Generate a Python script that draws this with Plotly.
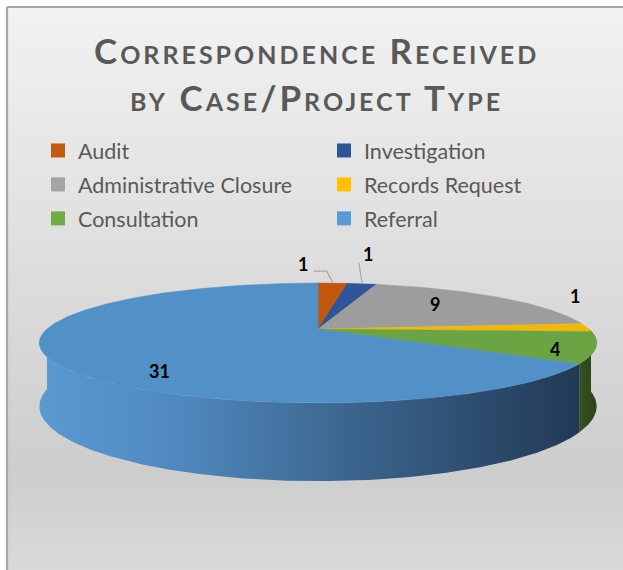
import math
import plotly.graph_objects as go

# ---------------- data ----------------
categories = ["Audit", "Investigation", "Administrative Closure",
              "Records Request", "Consultation", "Referral"]
values = [1, 1, 9, 1, 4, 31]
title_lines = ["Correspondence Received", "by Case/Project Type"]

# ---------------- styles ----------------
legend_colors = ["#C55A11", "#2F5597", "#A5A5A5", "#FFC000", "#70AD47", "#5B9BD5"]
top_colors = ["#C0580F", "#2E5597", "#9D9D9D", "#F4B800", "#6AA443", "#5290C8"]
legend_column = ["legend", "legend2", "legend", "legend2", "legend", "legend2"]
side_scales = {
    "Records Request": [[0, "#7a5c00"], [1, "#6a5000"]],
    "Consultation": [[0, "#34521f"], [1, "#2b421a"]],
    "Referral": [[0, "#5b99d1"], [0.25, "#5089c0"], [0.55, "#3d6892"], [1, "#223955"]],
}
# label placement: (radius factor, dx, dy, leader)
label_style = {
    "Audit": dict(r=1.0, dx=-30, dy=-19, leader=True),
    "Investigation": dict(r=1.0, dx=6, dy=-30, leader=True),
    "Administrative Closure": dict(r=0.62, dx=0, dy=-4, leader=False),
    "Records Request": dict(r=1.0, dx=-12, dy=-31, leader=False),
    "Consultation": dict(r=0.86, dx=0, dy=5, leader=False),
    "Referral": dict(r=0.62, dx=0, dy=24, leader=False),
}

W, H = 623, 570
CX, CY = 318.0, 329.0     # pie apex
A, B = 271.0, 56.7        # projected radii
K = 0.233                 # perspective factor
THICK = 60.0              # extrusion


def proj(theta_deg, r=1.0, drop=0.0):
    t = math.radians(theta_deg)
    X, Z = r * math.sin(t), r * math.cos(t)
    s = 1.0 + K * Z
    return CX + A * X / s, CY - B * Z / s + drop / s


def arc(a0, a1, r=1.0, drop=0.0, n=None):
    if n is None:
        n = max(4, int(abs(a1 - a0) * 2))
    pts = [proj(a0 + (a1 - a0) * i / n, r, drop) for i in range(n + 1)]
    return [p[0] for p in pts], [p[1] for p in pts]


total = sum(values)
starts, ends = [], []
acc = 0.0
for v in values:
    starts.append(acc / total * 360.0)
    acc += v
    ends.append(acc / total * 360.0)

fig = go.Figure()

# ---------------- background gradient (frame) ----------------
shapes = []
def bg_level(y):
    if y < 470:
        return 242 - (242 - 205) * (y - 7) / (470 - 7)
    return 205 + (218 - 205) * (y - 470) / 100.0

n_strips = 70
y0 = 7.0
step = (H - y0) / n_strips
for i in range(n_strips):
    ya = y0 + i * step
    g = int(round(bg_level(ya + step / 2)))
    shapes.append(dict(type="rect", xref="x", yref="y", x0=7, x1=W + 2, y0=ya, y1=ya + step + 0.6,
                       fillcolor=f"rgb({g},{g},{g})", line=dict(width=0), layer="below"))
shapes.append(dict(type="line", xref="x", yref="y", x0=7, x1=W + 2, y0=7, y1=7,
                   line=dict(color="#A6A6A6", width=2.2), layer="below"))
shapes.append(dict(type="line", xref="x", yref="y", x0=7, x1=7, y0=7, y1=H + 5,
                   line=dict(color="#A6A6A6", width=2.2), layer="below"))

# ---------------- side walls (near half only) ----------------
for cat, a0, a1 in zip(categories, starts, ends):
    lo, hi = max(a0, 90.0), min(a1, 270.0)
    if hi <= lo:
        continue
    tx, ty = arc(lo, hi)
    bx, by = arc(lo, hi, drop=THICK)
    xs = tx + bx[::-1] + [tx[0]]
    ys = ty + by[::-1] + [ty[0]]
    fig.add_trace(go.Scatter(
        x=xs, y=ys, mode="lines", fill="toself",
        line=dict(width=0, color="rgba(0,0,0,0)"),
        fillgradient=dict(type="horizontal", colorscale=side_scales[cat]),
        hoverinfo="skip", showlegend=False))

# ---------------- top faces ----------------
for cat, a0, a1, col, v in zip(categories, starts, ends, top_colors, values):
    ax_, ay_ = arc(a0, a1)
    xs = [CX] + ax_ + [CX]
    ys = [CY] + ay_ + [CY]
    fig.add_trace(go.Scatter(
        x=xs, y=ys, mode="lines", fill="toself", fillcolor=col,
        line=dict(width=0.5, color=col), name=cat,
        hovertemplate=f"{cat}: {v}<extra></extra>", showlegend=False))

# ---------------- data labels ----------------
annotations = []
for cat, a0, a1, v in zip(categories, starts, ends, values):
    st = label_style[cat]
    mid = (a0 + a1) / 2
    px, py = proj(mid, st["r"])
    lx, ly = px + st["dx"], py + st["dy"]
    if st["leader"]:
        ex, ey = proj(mid, 1.0)
        if st["dx"] < 0:
            xs = [ex, ex - 6, lx + 11]
            ys = [ey - 1, ey - 12, ey - 12]
        else:
            xs = [ex, ex - 3]
            ys = [ey - 1, ly + 9]
        fig.add_trace(go.Scatter(x=xs, y=ys, mode="lines",
                                 line=dict(color="#A6A6A6", width=1.2),
                                 hoverinfo="skip", showlegend=False))
    annotations.append(dict(x=lx, y=ly, xref="x", yref="y", text=f"<b>{v}</b>",
                            showarrow=False, font=dict(family="Lato", size=18, color="#000000")))

# ---------------- title ----------------
for i, line in enumerate(title_lines):
    annotations.append(dict(
        x=316, y=50 + 47 * i, xref="x", yref="y", xanchor="center", yanchor="middle",
        text=f"<b><span style='letter-spacing:3px'>{line}</span></b>", showarrow=False,
        font=dict(family="Lato", size=35, color="#595959", variant="small-caps")))

# ---------------- legend entries ----------------
for i, (cat, col, lg) in enumerate(zip(categories, legend_colors, legend_column)):
    fig.add_trace(go.Scatter(x=[None], y=[None], mode="markers", name=cat,
                             legend=lg, legendgroup=f"g{i}",
                             marker=dict(symbol="square", size=14, color=col),
                             showlegend=True))

legend_common = dict(orientation="v", xanchor="left", yanchor="top",
                     tracegroupgap=3, font=dict(family="Lato", size=21.5, color="#595959"),
                     bgcolor="rgba(0,0,0,0)", itemclick=False, itemdoubleclick=False)

fig.update_layout(
    width=W, height=H,
    margin=dict(l=0, r=0, t=0, b=0),
    paper_bgcolor="#FFFFFF", plot_bgcolor="rgba(0,0,0,0)",
    xaxis=dict(range=[0, W], visible=False, fixedrange=True),
    yaxis=dict(range=[H, 0], visible=False, fixedrange=True),
    shapes=shapes,
    annotations=annotations,
    legend=dict(x=38 / W, y=1 - 130 / H, **legend_common),
    legend2=dict(x=324 / W, y=1 - 130 / H, **legend_common),
    showlegend=True,
)

fig.write_html("out.html")
